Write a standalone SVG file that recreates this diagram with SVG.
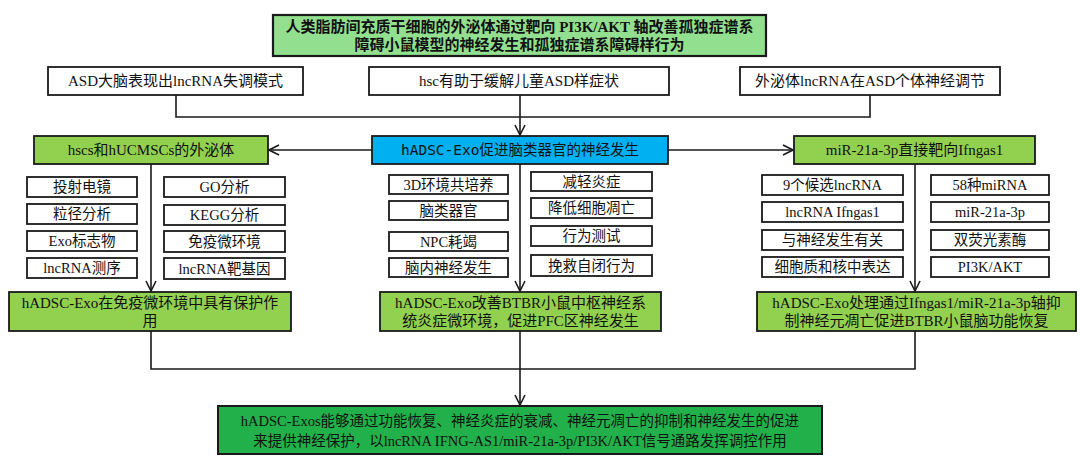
<svg xmlns="http://www.w3.org/2000/svg" width="1080" height="470" viewBox="0 0 1080 470">
<style>
text{font-family:"Liberation Serif","Noto Sans CJK SC",serif;fill:#111;text-anchor:middle;dominant-baseline:central}
.b{fill:#fff;stroke:#1a1a1a;stroke-width:1.8}
.t{fill:#92E08F;stroke:#1a1a1a;stroke-width:2.2}
.g{fill:#92D050;stroke:#1a1a1a;stroke-width:1.8}
.bl{fill:#00B0F0;stroke:#1a1a1a;stroke-width:1.8}
.f{fill:#22B04B;stroke:#1a1a1a;stroke-width:2}
.c{fill:none;stroke:#1a1a1a;stroke-width:1.6}
.s{font-size:14.5px}
.m{font-size:15px}
.tt{font-size:15px;font-weight:bold}
.mono{font-family:"DejaVu Sans Mono","Noto Sans CJK SC",monospace;font-size:14.5px}
</style>
<defs>
<marker id="a" viewBox="0 0 12 12" refX="11" refY="6" markerWidth="12" markerHeight="12" markerUnits="userSpaceOnUse" orient="auto">
<path d="M1,1 L11,6 L1,11" fill="none" stroke="#1a1a1a" stroke-width="1.6"/>
</marker>
</defs>

<g id="connectors">
<polyline class="c" points="176,95 176,117 870,117 870,95"/>
<line class="c" x1="520" y1="95" x2="520" y2="135" marker-end="url(#a)"/>
<line class="c" x1="372" y1="150" x2="269" y2="150" marker-end="url(#a)"/>
<line class="c" x1="668" y1="150" x2="793" y2="150" marker-end="url(#a)"/>
<line class="c" x1="151" y1="164" x2="151" y2="291" marker-end="url(#a)"/>
<line class="c" x1="520" y1="164" x2="520" y2="291" marker-end="url(#a)"/>
<line class="c" x1="915" y1="164" x2="915" y2="291" marker-end="url(#a)"/>
<polyline class="c" points="151,331 151,369 915,369 915,331"/>
<line class="c" x1="520" y1="331" x2="520" y2="405" marker-end="url(#a)"/>
</g>

<g id="title">
<rect class="t" x="273" y="15" width="493" height="41"/>
<text class="tt" x="519.5" y="27">人类脂肪间充质干细胞的外泌体通过靶向 PI3K/AKT 轴改善孤独症谱系</text>
<text class="tt" x="519.5" y="45">障碍小鼠模型的神经发生和孤独症谱系障碍样行为</text>
</g>

<g id="n-asd">
<rect class="b" x="48" y="67" width="255" height="28"/>
<text class="m" x="175.5" y="81">ASD大脑表现出lncRNA失调模式</text>
</g>
<g id="n-hsc">
<rect class="b" x="369" y="67" width="300" height="28"/>
<text class="m" x="519" y="81">hsc有助于缓解儿童ASD样症状</text>
</g>
<g id="n-exo">
<rect class="b" x="740" y="67" width="260" height="28"/>
<text class="m" x="870" y="81">外泌体lncRNA在ASD个体神经调节</text>
</g>

<g id="n-hscs">
<rect class="g" x="34" y="136" width="234" height="28"/>
<text class="m" x="151" y="150">hscs和hUCMSCs的外泌体</text>
</g>
<g id="n-center">
<rect class="bl" x="372" y="136" width="296" height="28"/>
<text class="mono" x="520" y="150">hADSC-Exo促进脑类器官的神经发生</text>
</g>
<g id="n-mir">
<rect class="g" x="794" y="136" width="241" height="28"/>
<text class="m" x="914.5" y="150">miR-21a-3p直接靶向Ifngas1</text>
</g>

<g id="l1"><rect class="b" x="27" y="177" width="110" height="20"/><text class="s" x="82" y="187">投射电镜</text></g>
<g id="l2"><rect class="b" x="27" y="204" width="110" height="20"/><text class="s" x="82" y="214">粒径分析</text></g>
<g id="l3"><rect class="b" x="27" y="231" width="110" height="20"/><text class="s" x="82" y="241">Exo标志物</text></g>
<g id="l4"><rect class="b" x="27" y="258" width="110" height="20"/><text class="s" x="82" y="268">lncRNA测序</text></g>
<g id="l5"><rect class="b" x="164" y="177" width="121" height="20"/><text class="s" x="224.5" y="187">GO分析</text></g>
<g id="l6"><rect class="b" x="164" y="205" width="121" height="20"/><text class="s" x="224.5" y="215">KEGG分析</text></g>
<g id="l7"><rect class="b" x="164" y="231" width="121" height="21"/><text class="s" x="224.5" y="241.5">免疫微环境</text></g>
<g id="l8"><rect class="b" x="164" y="258" width="121" height="21"/><text class="s" x="224.5" y="268.5">lncRNA靶基因</text></g>

<g id="m1"><rect class="b" x="389" y="175" width="119" height="19"/><text class="s" x="448.5" y="184.5">3D环境共培养</text></g>
<g id="m2"><rect class="b" x="389" y="201" width="119" height="19"/><text class="s" x="448.5" y="210.5">脑类器官</text></g>
<g id="m3"><rect class="b" x="389" y="232" width="119" height="19"/><text class="s" x="448.5" y="241.5">NPC耗竭</text></g>
<g id="m4"><rect class="b" x="389" y="258" width="119" height="19"/><text class="s" x="448.5" y="267.5">脑内神经发生</text></g>
<g id="m5"><rect class="b" x="531" y="172" width="121" height="19"/><text class="s" x="591.5" y="181.5">减轻炎症</text></g>
<g id="m6"><rect class="b" x="531" y="198" width="121" height="20"/><text class="s" x="591.5" y="208">降低细胞凋亡</text></g>
<g id="m7"><rect class="b" x="531" y="226" width="121" height="20"/><text class="s" x="591.5" y="236">行为测试</text></g>
<g id="m8"><rect class="b" x="531" y="255" width="121" height="21"/><text class="s" x="591.5" y="265.5">挽救自闭行为</text></g>

<g id="r1"><rect class="b" x="762" y="175" width="141" height="20"/><text class="s" x="832.5" y="185">9个候选lncRNA</text></g>
<g id="r2"><rect class="b" x="762" y="202" width="141" height="20"/><text class="s" x="832.5" y="212">lncRNA Ifngas1</text></g>
<g id="r3"><rect class="b" x="762" y="230" width="141" height="20"/><text class="s" x="832.5" y="240">与神经发生有关</text></g>
<g id="r4"><rect class="b" x="762" y="257" width="141" height="20"/><text class="s" x="832.5" y="267">细胞质和核中表达</text></g>
<g id="r5"><rect class="b" x="931" y="175" width="118" height="20"/><text class="s" x="990" y="185">58种miRNA</text></g>
<g id="r6"><rect class="b" x="931" y="202" width="118" height="20"/><text class="s" x="990" y="212">miR-21a-3p</text></g>
<g id="r7"><rect class="b" x="931" y="230" width="118" height="20"/><text class="s" x="990" y="240">双荧光素酶</text></g>
<g id="r8"><rect class="b" x="931" y="257" width="118" height="20"/><text class="s" x="990" y="267">PI3K/AKT</text></g>

<g id="res-left">
<rect class="g" x="9" y="292" width="282" height="39"/>
<text class="m" x="150" y="303">hADSC-Exo在免疫微环境中具有保护作</text>
<text class="m" x="150" y="321">用</text>
</g>
<g id="res-mid">
<rect class="g" x="380" y="292" width="281" height="39"/>
<text class="m" x="520.5" y="303">hADSC-Exo改善BTBR小鼠中枢神经系</text>
<text class="m" x="520.5" y="321">统炎症微环境，促进PFC区神经发生</text>
</g>
<g id="res-right">
<rect class="g" x="757" y="292" width="319" height="39"/>
<text class="m" x="916.5" y="303">hADSC-Exo处理通过Ifngas1/miR-21a-3p轴抑</text>
<text class="m" x="916.5" y="321">制神经元凋亡促进BTBR小鼠脑功能恢复</text>
</g>

<g id="final">
<rect class="f" x="218" y="406" width="604" height="48"/>
<text class="s" x="520" y="421">hADSC-Exos能够通过功能恢复、神经炎症的衰减、神经元凋亡的抑制和神经发生的促进</text>
<text class="s" x="520" y="441">来提供神经保护，以lncRNA IFNG-AS1/miR-21a-3p/PI3K/AKT信号通路发挥调控作用</text>
</g>
</svg>
